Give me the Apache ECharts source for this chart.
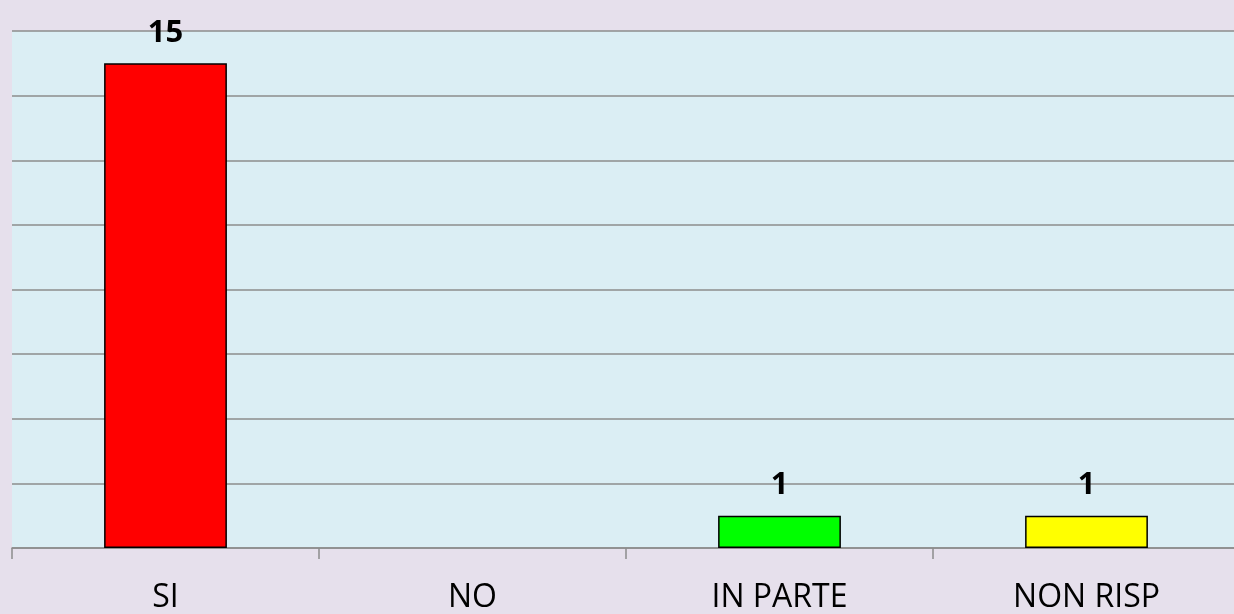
<!DOCTYPE html>
<html>
<head>
<meta charset="utf-8">
<script src="https://cdn.jsdelivr.net/npm/echarts@6/dist/echarts.min.js"></script>
<style>
  html, body { margin: 0; padding: 0; background: #e6e0ec; overflow: hidden; }
  #chart { width: 1240px; height: 614px; }
</style>
</head>
<body>
<div id="chart"></div>
<script>
const categories = ['SI', 'NO', 'IN PARTE', 'NON RISP']
const values = [15, 0, 1, 1]
const barColors = ['#ff0000', '#0000ff', '#00ff00', '#ffff00']

let myChart = echarts.init(document.getElementById('chart'))
myChart.setOption({
  backgroundColor: '#e6e0ec',
  grid: {
    left: 12,
    right: 0,
    top: 31,
    bottom: 65,
    show: true,
    backgroundColor: '#dbeef4',
    borderWidth: 0
  },
  xAxis: {
    type: 'category',
    data: categories,
    axisLine: {
      lineStyle: { color: '#8c8c8c', width: 1.5 }
    },
    axisTick: {
      show: true,
      length: 11,
      lineStyle: { color: '#8c8c8c', width: 1.5 }
    },
    axisLabel: {
      margin: 34,
      color: '#000',
      fontFamily: 'Open Sans',
      fontSize: 32
    }
  },
  yAxis: {
    type: 'value',
    min: 0,
    max: 16,
    interval: 2,
    axisLabel: { show: false },
    axisLine: { show: false },
    axisTick: { show: false },
    splitLine: {
      lineStyle: { color: '#8c8c8c', width: 1.5 }
    }
  },
  series: [{
    type: 'bar',
    barWidth: '40%',
    data: values.map((v, i) => ({
      value: v,
      itemStyle: { color: barColors[i], borderWidth: v > 0 ? 1.5 : 0 },
      label: { show: v > 0 }
    })),
    itemStyle: {
      borderColor: '#000',
      borderWidth: 1.5
    },
    label: {
      position: 'top',
      distance: 15,
      color: '#000',
      fontFamily: 'Open Sans',
      fontWeight: 'bold',
      fontSize: 31
    }
  }]
})
</script>
</body>
</html>
